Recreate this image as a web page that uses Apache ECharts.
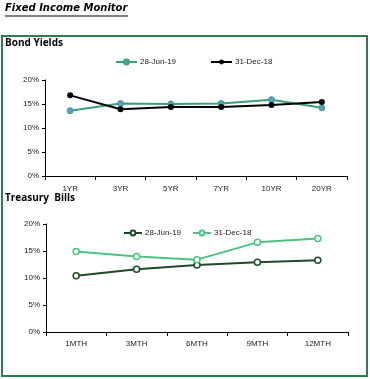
<!DOCTYPE html>
<html><head><meta charset="utf-8">
<style>html,body{margin:0;padding:0;background:#fff}#c{width:370px;height:379px}</style>
<script src="https://cdn.jsdelivr.net/npm/echarts@6/dist/echarts.min.js"></script>
</head><body><div id="c"></div>
<script>
var bondCats = ['1YR','3YR','5YR','7YR','10YR','20YR'];
var bondJun19 = [13.6, 15.1, 15.0, 15.1, 15.9, 14.2];
var bondDec18 = [16.8, 13.9, 14.4, 14.4, 14.8, 15.4];
var billCats = ['1MTH','3MTH','6MTH','9MTH','12MTH'];
var billJun19 = [10.4, 11.6, 12.4, 12.9, 13.3];
var billDec18 = [14.9, 14.0, 13.4, 16.6, 17.3];
var yTicks = [0, 5, 10, 15, 20];

var chart = echarts.init(document.getElementById('c'));
var FONT = 'Liberation Sans';
var lbl = {fontFamily:FONT, fontSize:8, color:'#1a1a1a'};
function yAxis(gi){
  return {type:'value', gridIndex:gi, min:0, max:20, interval:5,
    axisLine:{show:true, lineStyle:{color:'#000', width:1}},
    axisTick:{show:true, length:3, lineStyle:{color:'#000'}},
    splitLine:{show:false},
    axisLabel:Object.assign({formatter:function(v){return yTicks.indexOf(v)>=0? v+'%':'';}, margin:6}, lbl)};
}
function xAxis(gi, cats, m){
  return {type:'category', gridIndex:gi, data:cats, boundaryGap:true,
    axisLine:{lineStyle:{color:'#000', width:1}},
    axisTick:{show:true, length:4, lineStyle:{color:'#000'}},
    axisLabel:Object.assign({margin:m}, lbl)};
}
var legText = {fontFamily:FONT, fontSize:8, color:'#1a1a1a', padding:[0,0,0,-2]};
chart.setOption({
  animation:false,
  graphic:[
    {type:'rect', shape:{x:2, y:36, width:365, height:340}, style:{fill:'none', stroke:'#2E7D4F', lineWidth:2}},
    {type:'text', left:5, top:3, style:{text:'Fixed Income Monitor', font:'bold italic 10px "DejaVu Sans"', fill:'#000'}},
    {type:'line', shape:{x1:5, y1:16, x2:128, y2:16}, style:{stroke:'#000', lineWidth:1}},
    {type:'text', left:5, top:38, style:{text:'Bond Yields', font:'bold 10px "Open Sans"', fill:'#000'}},
    {type:'text', left:5, top:193, style:{text:'Treasury  Bills', font:'bold 10px "Open Sans"', fill:'#000'}}
  ],
  legend:[
    {top:58, left:115, padding:0, itemWidth:21, itemHeight:6, itemGap:34, textStyle:legText,
     data:['28-Jun-19','31-Dec-18']},
    {top:229, left:123, padding:0, itemWidth:18, itemHeight:6, itemGap:11, textStyle:legText,
     data:['b28-Jun-19','b31-Dec-18'], formatter:function(n){return n.slice(1);}}
  ],
  grid:[
    {left:45, right:23, top:80, height:96},
    {left:46, right:22, top:224, height:108}
  ],
  xAxis:[xAxis(0,bondCats,9), xAxis(1,billCats,8)],
  yAxis:[yAxis(0), yAxis(1)],
  series:[
    {name:'28-Jun-19', type:'line', xAxisIndex:0, yAxisIndex:0, data:bondJun19, symbol:'circle', symbolSize:6,
     lineStyle:{color:'#3A9F73', width:2}, itemStyle:{color:'#5B9BD5', borderColor:'#3A9F73', borderWidth:1}},
    {name:'31-Dec-18', type:'line', xAxisIndex:0, yAxisIndex:0, data:bondDec18, symbol:'circle', symbolSize:6,
     lineStyle:{color:'#000', width:2}, itemStyle:{color:'#000'}},
    {name:'b28-Jun-19', type:'line', xAxisIndex:1, yAxisIndex:1, data:billJun19, symbol:'circle', symbolSize:6,
     lineStyle:{color:'#1D4A2C', width:2}, itemStyle:{color:'#fff', borderColor:'#1D4A2C', borderWidth:1.5}},
    {name:'b31-Dec-18', type:'line', xAxisIndex:1, yAxisIndex:1, data:billDec18, symbol:'circle', symbolSize:6,
     lineStyle:{color:'#4CC382', width:2}, itemStyle:{color:'#fff', borderColor:'#4CC382', borderWidth:1.5}}
  ]
});
</script></body></html>
